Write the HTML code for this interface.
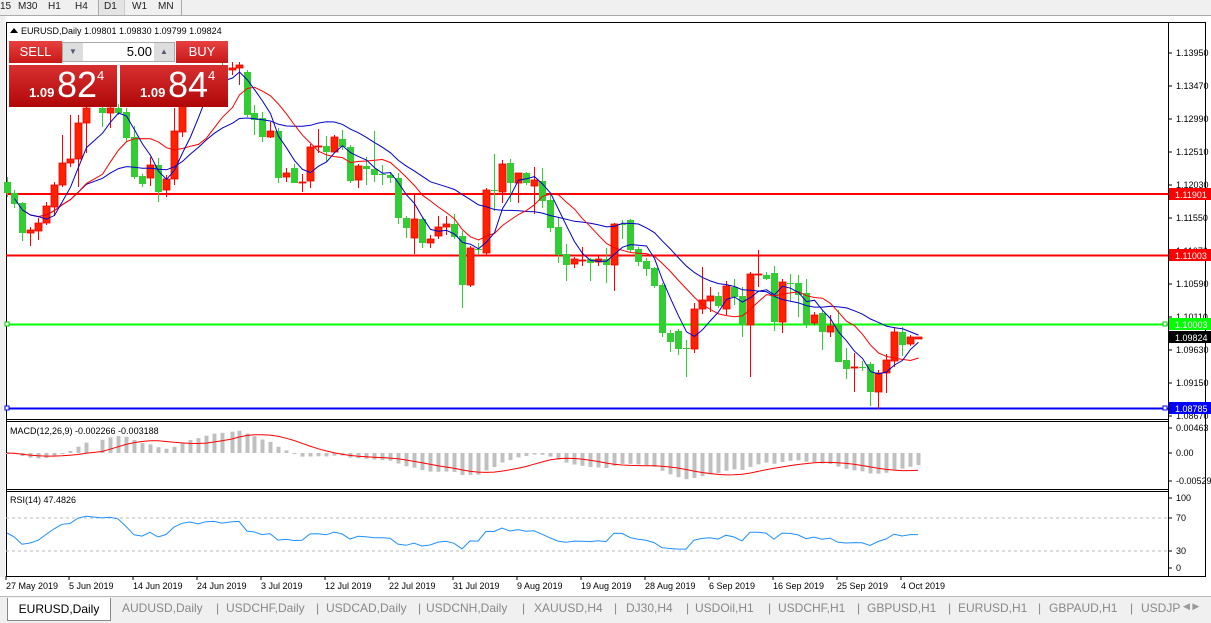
<!DOCTYPE html>
<html><head><meta charset="utf-8">
<style>
body{margin:0;width:1211px;height:622px;overflow:hidden;background:#fff;font-family:"Liberation Sans",sans-serif;position:relative}
.tb{position:absolute;left:0;top:0;width:1211px;height:15px;background:#f0f0f0;border-bottom:1px solid #aaa;font-size:10px;color:#222}
.tb span{position:absolute;top:1px}
.axis{font-size:9px;fill:#000}
</style></head><body>
<div class="tb">
<span style="left:0">15</span><span style="left:18px">M30</span><span style="left:48px">H1</span><span style="left:75px">H4</span>
<div style="position:absolute;left:98px;top:0;width:25px;height:15px;background:#e4e4e4;border-left:1px solid #aaa;border-right:1px solid #ccc"></div>
<span style="left:104px">D1</span><span style="left:132px">W1</span><span style="left:158px">MN</span>
<div style="position:absolute;left:181px;top:0;height:15px;border-left:1px solid #aaa"></div>
</div>
<div style="position:absolute;left:0;top:16px;width:5px;height:580px;background:#f0f0f0"></div>
<svg id="s" width="1211" height="622" style="position:absolute;left:0;top:0" xmlns="http://www.w3.org/2000/svg"></svg>
<div style="position:absolute;left:9px;top:41px;width:219px;height:66px">
 <div style="position:absolute;left:0;top:0;width:53px;height:22px;background:linear-gradient(#e84040,#c81818);color:#fff;font-size:13px;text-align:center;line-height:22px">SELL</div>
 <div style="position:absolute;left:53px;top:1px;width:113px;height:20px;background:#fff;border:1px solid #aaa;box-sizing:border-box">
  <div style="position:absolute;left:0;top:0;width:20px;height:18px;background:#ddd;color:#557;font-size:8px;text-align:center;line-height:18px">▼</div>
  <div style="position:absolute;right:22px;top:1px;font-size:13px">5.00</div>
  <div style="position:absolute;right:0;top:0;width:20px;height:18px;background:#ddd;color:#557;font-size:8px;text-align:center;line-height:18px">▲</div>
 </div>
 <div style="position:absolute;left:167px;top:0;width:52px;height:22px;background:linear-gradient(#e84040,#c81818);color:#fff;font-size:13px;text-align:center;line-height:22px">BUY</div>
 <div style="position:absolute;left:0;top:24px;width:108px;height:42px;background:linear-gradient(#d83030,#b00808);color:#fff">
  <span style="position:absolute;left:20px;top:20px;font-size:13px;font-weight:bold">1.09</span>
  <span style="position:absolute;left:48px;top:0;font-size:36px;line-height:40px">82</span>
  <span style="position:absolute;left:88px;top:3px;font-size:13px">4</span>
 </div>
 <div style="position:absolute;left:111px;top:24px;width:108px;height:42px;background:linear-gradient(#d83030,#b00808);color:#fff">
  <span style="position:absolute;left:20px;top:20px;font-size:13px;font-weight:bold">1.09</span>
  <span style="position:absolute;left:48px;top:0;font-size:36px;line-height:40px">84</span>
  <span style="position:absolute;left:88px;top:3px;font-size:13px">4</span>
 </div>
</div>
<div style="position:absolute;left:0;top:596px;width:1211px;height:26px;background:#f0f0f0;border-top:1px solid #bbb;font-size:12px;color:#888">
 <div style="position:absolute;left:7px;top:1px;width:102px;height:22px;background:#fff;border:1px solid #888;border-top:none;color:#000;text-align:center;line-height:22px">EURUSD,Daily</div>
 <span style="position:absolute;left:122px;top:4px">AUDUSD,Daily</span><span style="position:absolute;left:216px;top:4px">|</span>
 <span style="position:absolute;left:226px;top:4px">USDCHF,Daily</span><span style="position:absolute;left:316px;top:4px">|</span>
 <span style="position:absolute;left:326px;top:4px">USDCAD,Daily</span><span style="position:absolute;left:418px;top:4px">|</span>
 <span style="position:absolute;left:426px;top:4px">USDCNH,Daily</span><span style="position:absolute;left:522px;top:4px">|</span>
 <span style="position:absolute;left:534px;top:4px">XAUUSD,H4</span><span style="position:absolute;left:614px;top:4px">|</span>
 <span style="position:absolute;left:626px;top:4px">DJ30,H4</span><span style="position:absolute;left:686px;top:4px">|</span>
 <span style="position:absolute;left:695px;top:4px">USDOil,H1</span><span style="position:absolute;left:768px;top:4px">|</span>
 <span style="position:absolute;left:778px;top:4px">USDCHF,H1</span><span style="position:absolute;left:857px;top:4px">|</span>
 <span style="position:absolute;left:867px;top:4px">GBPUSD,H1</span><span style="position:absolute;left:948px;top:4px">|</span>
 <span style="position:absolute;left:958px;top:4px">EURUSD,H1</span><span style="position:absolute;left:1038px;top:4px">|</span>
 <span style="position:absolute;left:1049px;top:4px">GBPAUD,H1</span><span style="position:absolute;left:1130px;top:4px">|</span>
 <span style="position:absolute;left:1141px;top:4px">USDJP</span>
 <span style="position:absolute;left:1183px;top:4px;font-size:9px;color:#999">◀ ▶</span>
</div>
<script>
const C=[
[7,177,197,182,193,'g'],[14,190,208,193,204,'g'],[22,202,241,203,233,'g'],[30,227,246,230,233,'r'],[38,218,240,223,231,'r'],[46,202,225,206,223,'r'],[54,182,216,185,207,'r'],[62,135,187,163,185,'r'],[70,115,167,159,163,'r'],[78,115,187,123,159,'r'],[86,100,153,108,123,'r'],[102,104,127,108,113,'g'],[110,104,128,108,113,'r'],[118,104,115,108,113,'g'],[126,108,142,112,138,'g'],[134,126,179,137,177,'g'],[142,174,187,176,184,'g'],[150,157,186,165,178,'r'],[158,158,202,165,192,'g'],[166,175,197,179,190,'r'],[174,108,185,131,179,'r'],[182,90,137,98,132,'r'],[190,80,105,85,100,'r'],[198,78,100,82,95,'g'],[206,70,95,75,90,'r'],[214,66,90,72,85,'r'],[222,62,85,66,80,'g'],[232,62,75,68,70,'r'],[239,62,85,65,68,'r'],[247,70,117,72,115,'g'],
[254,105,135,113,120,'g'],[262,112,142,118,137,'g'],[270,122,138,131,137,'r'],[278,128,183,131,178,'g'],[286,168,182,173,177,'r'],[294,164,183,168,183,'g'],[302,174,192,182,183,'r'],[310,144,188,147,181,'r'],[318,129,153,146,147,'r'],[326,136,162,146,152,'g'],[334,135,153,137,152,'r'],[342,130,150,139,147,'g'],[350,145,183,147,181,'g'],[358,164,188,166,180,'r'],[366,157,185,166,169,'g'],[374,131,182,169,175,'g'],[382,165,185,174,175,'g'],[390,172,183,175,178,'g'],[398,173,224,178,218,'g'],[406,216,238,218,228,'g'],[414,193,254,219,238,'r'],[422,217,248,219,243,'g'],[430,235,248,239,243,'r'],[438,216,239,227,236,'r'],[446,216,235,224,227,'r'],[454,214,239,224,237,'g'],
[462,231,308,236,285,'g'],[470,246,287,248,285,'r'],[478,243,255,249,250,'g'],[486,188,255,190,253,'r'],[494,154,211,190,191,'g'],[502,160,203,164,192,'r'],[510,159,202,163,183,'g'],[518,173,203,173,183,'r'],[526,172,185,173,183,'g'],[534,167,214,180,186,'r'],[542,168,208,181,201,'g'],[550,195,232,200,228,'g'],[558,217,263,227,255,'g'],[566,244,281,254,265,'g'],[574,257,268,259,264,'r'],[582,247,266,260,261,'r'],[590,258,281,259,263,'g'],[598,255,266,259,262,'r'],[606,248,283,259,265,'g'],[614,223,291,224,265,'r'],[622,220,239,224,225,'g'],[630,219,253,220,250,'g'],[638,247,266,249,262,'g'],[646,258,276,261,269,'g'],[654,267,288,268,286,'g'],[662,283,337,285,333,'g'],[670,330,352,333,342,'g'],[678,329,355,331,349,'g'],[686,340,377,348,349,'g'],[694,303,353,309,349,'r'],[702,267,314,300,309,'r'],[710,287,312,296,301,'r'],[718,292,308,296,306,'g'],[726,281,315,286,309,'r'],[734,279,305,287,297,'g'],[742,287,337,296,325,'g'],[750,272,377,274,325,'r'],[758,250,287,274,275,'r'],[766,272,280,275,279,'g'],[774,266,331,273,322,'g'],[782,279,333,282,322,'r'],[790,274,301,283,284,'g'],[798,275,317,283,295,'g'],[806,279,328,293,325,'g'],[814,312,325,315,323,'r'],[822,310,350,313,332,'g'],[830,315,337,326,332,'r'],[838,310,362,325,362,'g'],[846,348,379,360,369,'g'],[854,353,392,367,368,'r'],[862,361,371,367,368,'g'],[870,362,406,364,392,'g'],[878,370,409,373,392,'r'],[886,354,393,360,373,'r'],[894,327,367,332,361,'r'],[902,327,356,332,345,'g'],[910,335,346,337,344,'r'],[918,337,339,337,339,'r']];
let h='';
const L=(x1,y1,x2,y2,c,w,e)=>`<line x1="${x1}" y1="${y1}" x2="${x2}" y2="${y2}" stroke="${c}" stroke-width="${w||1}" ${e||''}/>`;
const T=(x,y,t,a)=>`<text x="${x}" y="${y}" class="axis" ${a||''}>${t}</text>`;
// frame
h+=`<rect x="6.5" y="22.5" width="1199" height="554" fill="none" stroke="#000"/>`;
h+=L(1168.5,22,1168.5,577,'#000');
h+=L(6,419.5,1168,419.5,'#000')+L(6,421.5,1168,421.5,'#000');
h+=L(6,489.5,1168,489.5,'#000')+L(6,491.5,1168,491.5,'#000');
h+=`<rect x="0" y="577" width="1211" height="19" fill="#fff"/>`;
// closes
const cl=C.map(c=>c[5]=='r'?c[3]:c[4]);
const sma=n=>cl.map((v,i)=>{let s=0,k=0;for(let j=Math.max(0,i-n+1);j<=i;j++){s+=v===undefined?0:cl[j];k++;}return s/k;});
const pl=(arr,c,st)=>{let p=arr.map((v,i)=>(C[i][0]+0.5)+','+v.toFixed(1)).slice(st||0).join(' ');return `<polyline points="${p}" fill="none" stroke="${c}" stroke-width="1"/>`;};
// hlines
h+=L(6,194,1168,194,'#f00',2)+L(6,255.5,1168,255.5,'#f00',2)+L(6,324.5,1168,324.5,'#0f0',2)+L(6,408.5,1168,408.5,'#00f',2);
h+=`<rect x="5" y="322" width="4" height="4" fill="#fff" stroke="#0c0"/><rect x="1163" y="322" width="4" height="4" fill="#fff" stroke="#0c0"/>`;
h+=`<rect x="5" y="406" width="4" height="4" fill="#fff" stroke="#00f"/><rect x="1163" y="406" width="4" height="4" fill="#fff" stroke="#00f"/>`;
// candles
C.forEach(c=>{const[x,hi,lo,a,b,k]=c;const col=k=='r'?'#ff2200':'#32cd32';
 h+=L(x+0.5,hi,x+0.5,lo,k=='r'?'#f00':'#32cd32');
 const ht=Math.max(1,b-a);h+=`<rect x="${x-3}" y="${a}" width="7" height="${ht}" fill="${col}" ${k=='r'?'stroke="#e00" stroke-width="0.8"':''}/>`;});
h+=pl(sma(20),'#0000c8',3)+pl(sma(10),'#f00',2)+pl(sma(5),'#0000c8',1);
// price axis
const ly=[[1.13950,53],[1.13470,86],[1.12990,119],[1.12510,152],[1.12030,185],[1.11550,218],[1.11070,251],[1.10590,284],[1.10110,317],[1.09630,350],[1.09150,383],[1.08670,416]];
ly.forEach(([v,y])=>{h+=L(1168,y,1172,y,'#000')+T(1176,y+3,v.toFixed(5));});
const tag=(y,t,bg,fg)=>`<rect x="1169" y="${y-6}" width="42" height="12" fill="${bg}"/><text x="1175" y="${y+4}" class="axis" fill="${fg}" style="fill:${fg}">${t}</text>`;
h+=tag(194,'1.11901','#f00','#fff')+tag(255,'1.11003','#f00','#fff')+tag(324,'1.10003','#0f0','#fff')+tag(337,'1.09824','#000','#fff')+tag(408,'1.08785','#00f','#fff');
h+=`<path d="M10 33 L14 28 L18 33Z" fill="#000"/>`+T(21,34,'EURUSD,Daily  1.09801 1.09830 1.09799 1.09824');
// MACD
const pr=cl.map(y=>1.1395-(y-53)/6875);
const ema=(n)=>{let k=2/(n+1),e=pr[0];return pr.map(v=>e=v*k+e*(1-k));};
const e12=ema(12),e26=ema(26);const m=e12.map((v,i)=>v-e26[i]);
const sig=m.map((v,i)=>{let s=0,k=0;for(let j=Math.max(0,i-8);j<=i;j++){s+=m[j];k++;}return s/k;});
const my=v=>453-v*5400;
m.forEach((v,i)=>{const x=C[i][0];const y=my(v);h+=`<rect x="${x-1.5}" y="${Math.min(y,453)}" width="4" height="${Math.max(1,Math.abs(y-453))}" fill="#c0c0c0"/>`;});
h+=`<polyline points="${sig.map((v,i)=>C[i][0]+','+my(v).toFixed(1)).join(' ')}" fill="none" stroke="#f00"/>`;
h+=T(10,434,'MACD(12,26,9) -0.002266 -0.003188');
[[ '0.00463',428],['0.00',453],['-0.005299',481]].forEach(([t,y])=>h+=L(1168,y,1172,y,'#000')+T(1176,y+3,t));
// RSI
h+=L(6,518,1168,518,'#bbb',1,'stroke-dasharray="3,3"')+L(6,551,1168,551,'#bbb',1,'stroke-dasharray="3,3"');
let ag=0.0005,al=0.0005,rs=[];
pr.forEach((v,i)=>{if(i>0){const d=v-pr[i-1];ag=(ag*13+Math.max(d,0))/14;al=(al*13+Math.max(-d,0))/14;}rs.push(100-100/(1+ag/al));});
h+=`<polyline points="${rs.map((v,i)=>C[i][0]+','+(568-v*0.7).toFixed(1)).join(' ')}" fill="none" stroke="#1e90ff"/>`;
h+=T(10,503,'RSI(14) 47.4826');
[['100',498],['70',518],['30',551],['0',568]].forEach(([t,y])=>h+=L(1168,y,1172,y,'#000')+T(1176,y+3,t));
// dates
[['27 May 2019',6],['5 Jun 2019',69],['14 Jun 2019',133],['24 Jun 2019',197],['3 Jul 2019',261],['12 Jul 2019',325],['22 Jul 2019',389],['31 Jul 2019',453],['9 Aug 2019',517],['19 Aug 2019',581],['28 Aug 2019',645],['6 Sep 2019',709],['16 Sep 2019',773],['25 Sep 2019',837],['4 Oct 2019',901]].forEach(([t,x])=>h+=L(x,576,x,580,'#000')+T(x,589,t));
document.getElementById('s').innerHTML=h;
</script>
</body></html>
